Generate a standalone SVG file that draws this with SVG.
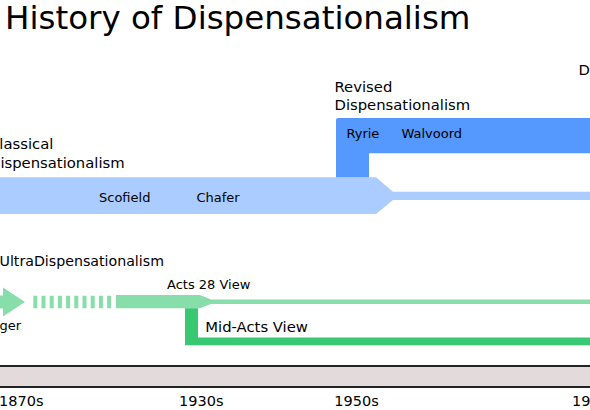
<svg xmlns="http://www.w3.org/2000/svg" width="590" height="410" viewBox="0 0 590 410">
<style>
text{font-family:"DejaVu Sans","Liberation Sans",sans-serif;fill:#000}
.title{font-size:32.5px}
.lab{font-size:14.8px}
.name{font-size:13px}
.yr{font-size:14.5px}
.lb{fill:#aaccff}
.db{fill:#5599ff}
.lg{fill:#87deaa}
.dg{fill:#37c871}
</style>
<rect width="590" height="410" fill="#fff"/>
<text class="title" x="5" y="28.5">History of Dispensationalism</text>

<g id="connectors">
</g>

<g id="classical">
<polygon class="lb" points="-10,177.3 376,177.3 393,191.7 600,191.7 600,200 393,200 376,214 -10,214"/>
<text class="lab" x="-11" y="149.3">Classical</text>
<text class="lab" x="-11" y="167.5">Dispensationalism</text>
<text class="name" x="99" y="201.7">Scofield</text>
<text class="name" x="196.5" y="201.7">Chafer</text>
</g>

<g id="revised">
<path class="db" d="M336,120 Q336,118 338,118 L600,118 L600,153.2 L369,153.2 L369,177.3 L336,177.3 Z"/>
<text class="lab" x="334.5" y="91.8">Revised</text>
<text class="lab" x="334.5" y="110.1">Dispensationalism</text>
<text class="name" x="346.4" y="138.3">Ryrie</text>
<text class="name" x="401.5" y="138.3">Walvoord</text>
</g>

<g id="progressive">
<text class="lab" x="578.6" y="75">D</text>
</g>

<g id="ultra">
<text class="lab" x="-0.5" y="266" style="font-size:14.2px">UltraDispensationalism</text>
<polygon class="lg" points="-5,295.5 3,295.5 3,287.5 25,302 3,316.5 3,308.5 -5,308.5"/>
<line x1="33.3" y1="302" x2="111.3" y2="302" stroke="#87deaa" stroke-width="12.3" stroke-dasharray="4 4.2"/>
<text class="name" x="-0.5" y="330">ger</text>
</g>

<g id="acts28">
<polygon class="lg" points="116,295 200,295 211,299.5 600,299.5 600,304 211,304 200,308.3 116,308.3"/>
<text class="name" x="167" y="289.3">Acts 28 View</text>
</g>

<g id="midacts">
<polygon class="dg" points="185,308.3 198,308.3 198,337.6 600,337.6 600,345.3 185,345.3"/>
<text class="lab" x="205.3" y="331.7">Mid-Acts View</text>
</g>

<g id="timeline">
<rect x="-5" y="366" width="600" height="21" fill="#e3dbdb" stroke="#222" stroke-width="2"/>
<text class="yr" x="-1" y="405.7">1870s</text>
<text class="yr" x="179" y="405.7">1930s</text>
<text class="yr" x="334.3" y="405.7">1950s</text>
<text class="yr" x="572" y="405.7">19</text>
</g>
</svg>
